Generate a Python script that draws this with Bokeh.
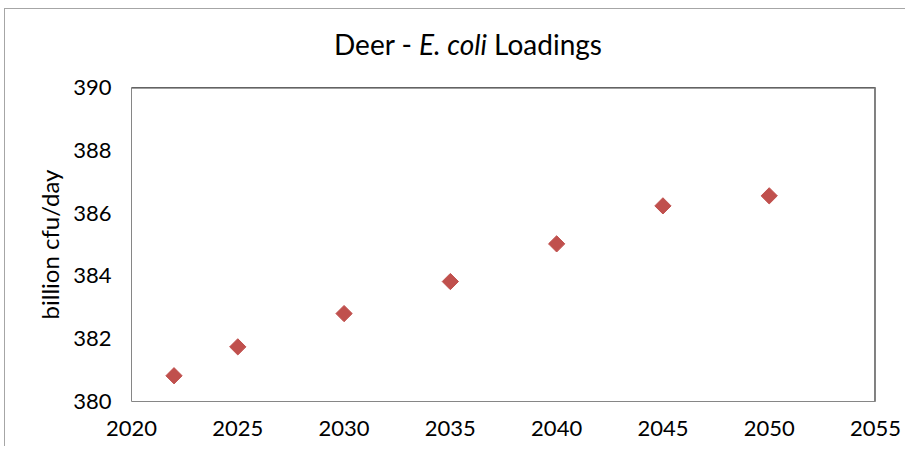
from bokeh.plotting import figure
from bokeh.layouts import column
from bokeh.models import Range1d, FixedTicker, Span, Div
from bokeh.embed import file_html
from bokeh.resources import INLINE

# ---- data ----
years = [2022, 2025, 2030, 2035, 2040, 2045, 2050]
loadings = [380.82, 381.74, 382.80, 383.82, 385.02, 386.23, 386.55]
x_ticks = [2020, 2025, 2030, 2035, 2040, 2045, 2050, 2055]
y_ticks = [380, 382, 384, 386, 388, 390]
title_plain_1 = "Deer - "
title_italic = "E. coli"
title_plain_2 = " Loadings"
y_label = "billion cfu/day"

FONT = "Lato"
MARKER = "#C0504D"
BORDER = "1px solid #a6a6a6"

title = Div(text=f"{title_plain_1}<i>{title_italic}</i>{title_plain_2}",
            width=900, height=51, margin=0,
            styles={"font-family": "Lato", "font-size": "28px", "color": "black",
                    "text-align": "center", "text-indent": "26px",
                    "padding-top": "15px", "box-sizing": "border-box",
                    "white-space": "nowrap"})

p = figure(width=900, height=386, output_backend="svg", toolbar_location=None,
           x_range=Range1d(x_ticks[0], x_ticks[-1]),
           y_range=Range1d(y_ticks[0], y_ticks[-1]),
           min_border_left=126, min_border_right=30,
           min_border_top=27, min_border_bottom=45,
           background_fill_color="white", border_fill_color="white")

p.scatter(years, loadings, marker="square", size=11.5, angle=0.785398,
          fill_color=MARKER, line_color=MARKER)

p.grid.grid_line_color = None
p.outline_line_color = "#868686"
p.outline_line_width = 1

for ax in (p.xaxis, p.yaxis):
    ax.axis_line_color = None
    ax.major_tick_out = 0
    ax.major_tick_in = 0
    ax.minor_tick_out = 0
    ax.minor_tick_in = 0
    ax.major_label_text_font = FONT
    ax.major_label_text_font_size = "22px"
    ax.major_label_text_color = "black"

p.xaxis.ticker = FixedTicker(ticks=x_ticks)
p.yaxis.ticker = FixedTicker(ticks=y_ticks)
p.xaxis.major_label_standoff = 19
p.yaxis.major_label_standoff = 20

p.yaxis.axis_label = y_label
p.yaxis.axis_label_text_font = FONT
p.yaxis.axis_label_text_font_size = "24px"
p.yaxis.axis_label_text_font_style = "normal"
p.yaxis.axis_label_text_color = "black"
p.yaxis.axis_label_standoff = 6

# darker top edge and heavier right edge of the frame
p.add_layout(Span(location=y_ticks[-1], dimension="width",
                  line_color="#404040", line_width=2))
p.add_layout(Span(location=x_ticks[-1], dimension="height",
                  line_color="#808080", line_width=3))

layout = column(title, p, margin=(8, 0, 0, 4),
                styles={"border-left": BORDER, "border-top": BORDER})

open("out.html", "w").write(file_html(layout, INLINE))
